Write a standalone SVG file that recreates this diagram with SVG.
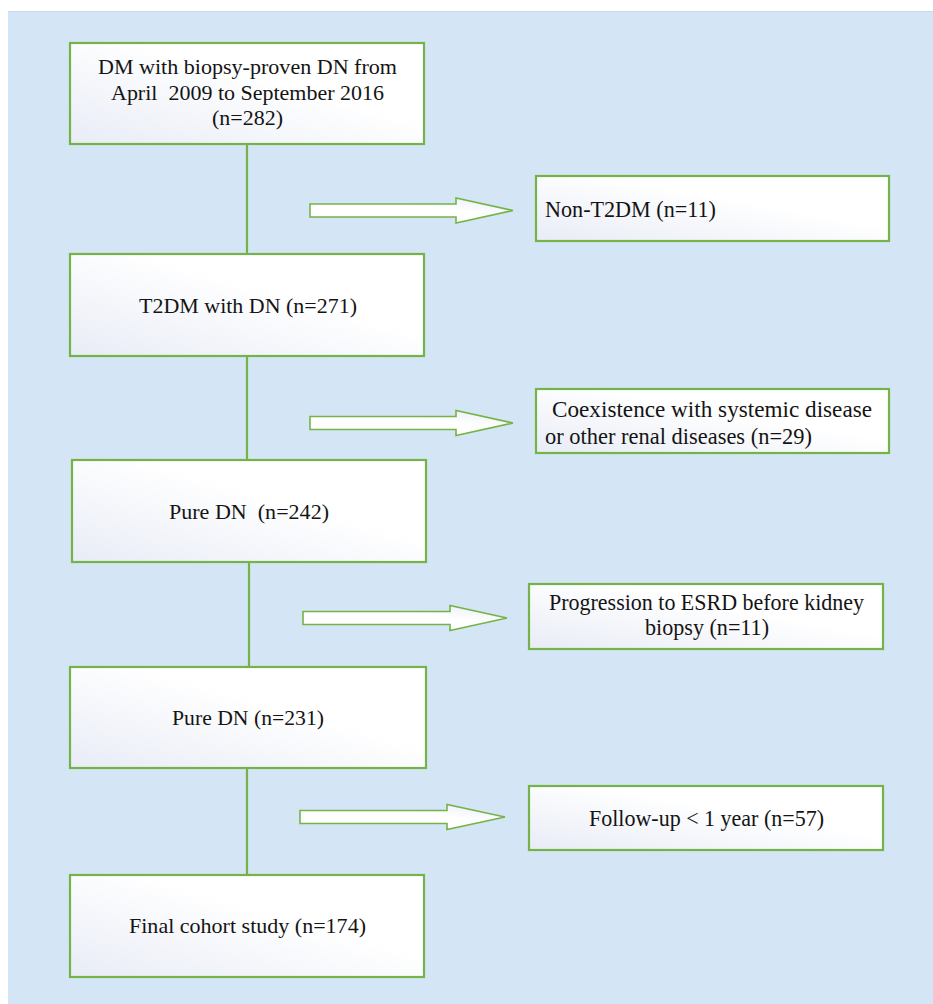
<svg xmlns="http://www.w3.org/2000/svg" width="933" height="1004" viewBox="0 0 933 1004">
<style>
.box{fill:url(#boxg);stroke:#75B348;stroke-width:2.2}
.arr{fill:url(#arrg);stroke:#75B348;stroke-width:1.6;stroke-linejoin:miter}
.link{stroke:#75B348;stroke-width:2.2;fill:none}
.t{font-family:'Liberation Serif','DejaVu Serif',serif;fill:#141414;font-size:22px}
.r{font-size:23px}
</style>
<defs>
<linearGradient id="boxg" x1="0" y1="1" x2="1" y2="0">
<stop offset="0" stop-color="#E8ECF6"/>
<stop offset="0.6" stop-color="#FFFFFF"/>
<stop offset="1" stop-color="#FFFFFF"/>
</linearGradient>
<linearGradient id="arrg" x1="0" y1="1" x2="1" y2="0">
<stop offset="0" stop-color="#FFFFFF"/>
<stop offset="0.6" stop-color="#FFFFFF"/>
<stop offset="1" stop-color="#E8ECF6"/>
</linearGradient>
</defs>
<rect x="0" y="0" width="933" height="1004" fill="#FFFFFF"/>
<rect x="8" y="11" width="925" height="993" fill="#D4E6F5"/>
<line x1="8" y1="11.5" x2="933" y2="11.5" stroke="#C6D8EE" stroke-width="1"/>

<g id="connectors">
<line class="link" x1="247" y1="144" x2="247" y2="254"/>
<line class="link" x1="247" y1="356" x2="247" y2="460"/>
<line class="link" x1="249" y1="562" x2="249" y2="667"/>
<line class="link" x1="247" y1="768" x2="247" y2="875"/>
<polygon class="arr" points="310,204 456,204 456,198 513,210.5 456,223 456,217 310,217"/>
<polygon class="arr" points="310,416.5 456,416.5 456,410.5 513,423 456,435.5 456,429.5 310,429.5"/>
<polygon class="arr" points="303,611.5 450,611.5 450,605.5 507,618 450,630.5 450,624.5 303,624.5"/>
<polygon class="arr" points="300,810.5 447,810.5 447,804.5 505,817 447,829.5 447,823.5 300,823.5"/>
</g>

<g id="n1" class="t">
<rect class="box" x="70" y="43" width="354" height="101"/>
<text x="247.5" y="74" text-anchor="middle" textLength="299" lengthAdjust="spacingAndGlyphs">DM with biopsy-proven DN from</text>
<text x="247.5" y="100" text-anchor="middle" textLength="273" lengthAdjust="spacingAndGlyphs" xml:space="preserve">April  2009 to September 2016</text>
<text x="247.5" y="125" text-anchor="middle" textLength="71" lengthAdjust="spacingAndGlyphs">(n=282)</text>
</g>

<g id="n2" class="t">
<rect class="box" x="70" y="254" width="354" height="102"/>
<text x="248" y="313" text-anchor="middle" textLength="218" lengthAdjust="spacingAndGlyphs">T2DM with DN (n=271)</text>
</g>

<g id="n3" class="t">
<rect class="box" x="72" y="460" width="354" height="102"/>
<text x="249" y="519" text-anchor="middle" textLength="160" lengthAdjust="spacingAndGlyphs" xml:space="preserve">Pure DN  (n=242)</text>
</g>

<g id="n4" class="t">
<rect class="box" x="70" y="667" width="356" height="101"/>
<text x="248" y="725" text-anchor="middle" textLength="152" lengthAdjust="spacingAndGlyphs">Pure DN (n=231)</text>
</g>

<g id="n5" class="t">
<rect class="box" x="70" y="875" width="354" height="102"/>
<text x="247.5" y="933" text-anchor="middle" textLength="237" lengthAdjust="spacingAndGlyphs">Final cohort study (n=174)</text>
</g>

<g id="e1" class="t r">
<rect class="box" x="536" y="176" width="353" height="65"/>
<text x="545" y="217" textLength="171" lengthAdjust="spacingAndGlyphs">Non-T2DM (n=11)</text>
</g>

<g id="e2" class="t r">
<rect class="box" x="536" y="389" width="353" height="64"/>
<text x="552" y="417" textLength="320" lengthAdjust="spacingAndGlyphs">Coexistence with systemic disease</text>
<text x="545" y="444" textLength="267" lengthAdjust="spacingAndGlyphs">or other renal diseases (n=29)</text>
</g>

<g id="e3" class="t r">
<rect class="box" x="529" y="584" width="354" height="65"/>
<text x="706.5" y="610" text-anchor="middle" textLength="315" lengthAdjust="spacingAndGlyphs">Progression to ESRD before kidney</text>
<text x="707" y="635" text-anchor="middle" textLength="124" lengthAdjust="spacingAndGlyphs">biopsy (n=11)</text>
</g>

<g id="e4" class="t r">
<rect class="box" x="529" y="786" width="354" height="64"/>
<text x="706.5" y="826" text-anchor="middle" textLength="235" lengthAdjust="spacingAndGlyphs">Follow-up &lt; 1 year (n=57)</text>
</g>
</svg>
